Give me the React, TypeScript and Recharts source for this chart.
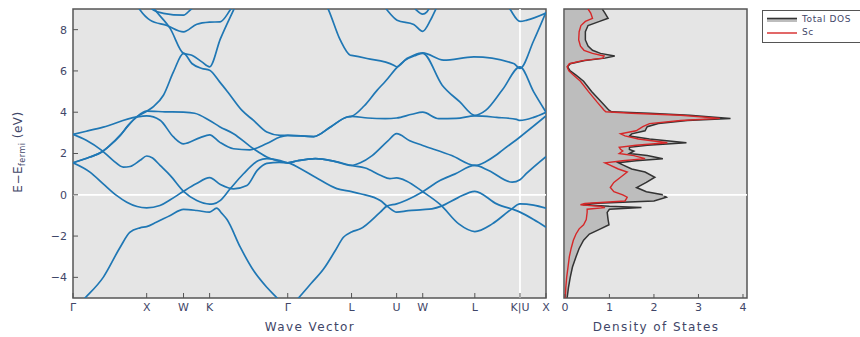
import React from 'react';
import {
  LineChart,
  Line,
  ComposedChart,
  Area,
  XAxis,
  YAxis,
  CartesianGrid,
  ReferenceLine,
  ReferenceArea,
  Legend,
} from 'recharts';

// high-symmetry points along the fcc path (distance in 2π/a)
const kPoints = [0, 1, 1.5, 1.854, 2.914, 3.78, 4.392, 4.746, 5.453, 6.066, 6.419];
const kLabels = ['Γ', 'X', 'W', 'K', 'Γ', 'L', 'U', 'W', 'L', 'K|U', 'X'];
const energyTicks = [-4, -2, 0, 2, 4, 6, 8];

// bands as [k, E - Efermi]
const band1 = [
  [0, -5.6], [0.163, -5.0], [0.41, -4.0], [0.64, -2.54], [0.77, -1.82], [0.91, -1.6], [1, -1.54],
  [1.13, -1.33], [1.32, -1.0], [1.5, -0.71],
  [1.68, -0.76], [1.854, -0.84],
  [1.95, -0.65], [2.02, -0.9], [2.09, -1.2], [2.27, -2.54], [2.45, -3.67], [2.63, -4.48], [2.77, -5.0], [2.914, -5.6],
  [3.06, -5.0], [3.23, -4.3], [3.4, -3.6], [3.56, -2.7], [3.67, -2.06], [3.78, -1.8],
  [3.9, -1.65], [4.17, -0.84], [4.26, -0.55], [4.392, -0.44],
  [4.53, -0.25], [4.746, 0.15],
  [4.98, 0.69], [5.18, 1.0], [5.453, 1.42],
  [5.64, 1.18], [5.96, 0.61], [6.066, 0.73], [6.15, 1.02], [6.419, 1.85],
];
const band2 = [
  [0, 1.55], [0.23, 1.1], [0.41, 0.53], [0.59, -0.03], [0.73, -0.36], [0.87, -0.57], [1, -0.63],
  [1.18, -0.52], [1.32, -0.24], [1.5, 0.17],
  [1.67, 0.53], [1.854, 0.83],
  [2.0, 0.5], [2.178, 0.29], [2.36, 0.45], [2.5, 1.18], [2.63, 1.52], [2.8, 1.57], [2.914, 1.55],
  [3.07, 1.3], [3.29, 0.85], [3.58, 0.3], [3.78, 0.15],
  [3.9, 0.05], [4.17, -0.28], [4.28, -0.6], [4.392, -0.84],
  [4.55, -0.77], [4.746, -0.72],
  [4.87, -0.68], [5.0, -0.55], [5.22, -0.15], [5.453, 0.17],
  [5.75, -0.44], [6.066, -0.84], [6.25, -1.2], [6.419, -1.57],
];
const band3 = [
  [0, 1.55], [0.23, 1.83], [0.39, 2.07], [0.5, 2.39], [0.64, 2.88], [0.75, 3.36], [0.865, 3.77], [1, 4.05],
  [1.1, 4.3], [1.227, 4.82], [1.363, 5.95], [1.5, 6.85],
  [1.613, 6.36], [1.749, 6.12], [1.854, 6.03],
  [1.99, 5.47], [2.1, 4.98], [2.29, 4.1], [2.45, 3.6], [2.63, 3.04], [2.81, 2.88], [2.914, 2.88],
  [3.265, 2.82], [3.5, 3.3], [3.72, 3.77], [3.78, 3.8],
  [3.95, 4.3], [4.126, 5.06], [4.24, 5.5], [4.392, 6.15],
  [4.5, 6.5], [4.65, 6.75], [4.746, 6.85],
  [5.01, 5.31], [5.25, 4.5], [5.453, 3.85],
  [5.6, 4.09], [5.83, 5.1], [6.066, 6.2],
  [6.25, 5.0], [6.419, 4.0],
];
const band4 = [
  [0, 1.55], [0.23, 1.83], [0.39, 2.07], [0.5, 2.39], [0.64, 2.88], [0.75, 3.36], [0.865, 3.77], [1, 4.05],
  [1.25, 4.02], [1.5, 4.0],
  [1.65, 3.95], [1.854, 3.6],
  [1.99, 3.3], [2.178, 2.96], [2.45, 2.23], [2.63, 1.83], [2.86, 1.58], [2.914, 1.55],
  [3.05, 1.65], [3.29, 1.75], [3.55, 1.62], [3.78, 1.42],
  [3.9, 1.55], [4.06, 1.9], [4.27, 2.6], [4.392, 2.96],
  [4.57, 2.62], [4.746, 2.39],
  [5.14, 1.9], [5.453, 1.42],
  [5.6, 1.6], [5.734, 1.9], [5.825, 2.15], [6.066, 2.8],
  [6.419, 3.82],
];
const band5 = [
  [0, 2.93], [0.18, 3.08], [0.41, 3.28], [0.865, 3.77], [1, 3.82],
  [1.182, 3.61], [1.363, 2.8], [1.5, 2.47],
  [1.726, 2.77], [1.854, 2.9],
  [1.99, 2.55], [2.178, 2.23], [2.4, 2.18], [2.63, 2.48], [2.81, 2.8], [2.914, 2.88],
  [3.265, 2.82], [3.5, 3.3], [3.72, 3.77], [3.78, 3.8],
  [4.0, 3.72], [4.239, 3.69], [4.392, 3.72],
  [4.6, 3.9], [4.746, 4.0],
  [4.963, 3.69], [5.2, 3.7], [5.453, 3.82],
  [5.75, 3.75], [6.02, 3.65], [6.066, 3.6],
  [6.25, 3.75], [6.419, 4.0],
];
const band6 = [
  [0, 2.93], [0.18, 2.64], [0.39, 2.15], [0.543, 1.67], [0.683, 1.34], [0.775, 1.37], [0.91, 1.67], [1, 1.88],
  [1.08, 1.78], [1.182, 1.42], [1.318, 0.94], [1.5, 0.17],
  [1.68, -0.28], [1.854, -0.45],
  [1.905, -0.44], [1.996, -0.28], [2.133, 0.29], [2.314, 1.02], [2.518, 1.66], [2.632, 1.75], [2.812, 1.66], [2.914, 1.55],
  [3.05, 1.65], [3.29, 1.75], [3.55, 1.62], [3.78, 1.42],
  [3.967, 1.3], [4.171, 0.95], [4.3, 0.78], [4.392, 0.82],
  [4.53, 0.66], [4.746, 0.15],
  [4.986, -0.48], [5.235, -1.41], [5.453, -1.78],
  [5.689, -1.41], [5.938, -0.73], [6.066, -0.44],
  [6.25, -0.5], [6.419, -0.65],
];
const band7 = [
  [1, 9.5], [1.114, 8.95], [1.318, 8.06], [1.5, 6.85],
  [1.613, 6.76], [1.749, 6.44], [1.854, 6.2],
  [2.0, 7.55], [2.178, 8.95], [2.3, 9.9],
];
const band8 = [
  [0.8, 9.6], [0.91, 8.95], [1.046, 8.46], [1.273, 8.2], [1.5, 7.89],
  [1.68, 8.26], [1.854, 8.36], [1.997, 8.38], [2.133, 8.95], [2.25, 9.6],
];
const band9 = [[1.0, 9.3], [1.091, 8.95], [1.227, 8.79], [1.5, 8.7], [1.59, 8.95], [1.7, 9.3]];
const band10 = [
  [3.35, 9.8], [3.469, 8.95], [3.628, 7.49], [3.764, 6.76], [3.78, 6.75],
  [3.99, 6.6], [4.352, 6.28], [4.392, 6.2],
  [4.53, 6.6], [4.624, 6.76], [4.746, 6.87],
  [5.03, 6.52], [5.44, 6.68], [5.98, 6.36], [6.066, 6.12],
  [6.25, 7.45], [6.419, 8.85],
];
const band11 = [
  [4.15, 9.5], [4.262, 8.95], [4.398, 8.46], [4.624, 8.25], [4.746, 7.92],
  [4.851, 8.46], [4.918, 8.95], [5.0, 9.6],
];
const band12 = [[4.58, 9.3], [4.66, 8.95], [4.746, 8.75], [4.8, 8.85], [4.86, 9.2]];
const band13 = [[5.85, 9.5], [5.938, 8.95], [6.066, 8.4], [6.16, 8.46], [6.419, 8.8]];

const bands = [band1, band2, band3, band4, band5, band6, band7, band8, band9, band10, band11, band12, band13];

// density of states, read along energy
const dosEnergy = [
  9.0, 8.8, 8.55, 8.4, 8.2, 7.9, 7.5, 7.2, 7.0, 6.85, 6.72, 6.62, 6.5, 6.35, 6.2, 6.0, 5.8, 5.5, 5.0, 4.5,
  4.1, 4.02, 3.95, 3.85, 3.7, 3.6, 3.45, 3.3, 3.1, 2.95, 2.85, 2.7, 2.52, 2.4, 2.3, 2.2, 2.12, 2.0, 1.9,
  1.75, 1.65, 1.55, 1.45, 1.25, 1.1, 0.85, 0.6, 0.35, 0.15, 0.0, -0.12, -0.3, -0.42, -0.48, -0.56, -0.62,
  -0.7, -0.85, -1.2, -1.45, -1.65, -1.9, -2.2, -2.6, -3.0, -3.5, -4.0, -4.5, -5.0,
];
const totalDos = [
  0.84, 0.9, 0.97, 0.78, 0.52, 0.46, 0.46, 0.52, 0.62, 0.8, 1.12, 0.9, 0.45, 0.12, 0.06, 0.12, 0.25, 0.42, 0.6, 0.82,
  0.99, 1.05, 1.9, 2.8, 3.72, 2.75, 2.1, 1.85, 1.8, 1.5, 1.45, 1.9, 2.73, 1.85, 1.45, 1.45, 1.55, 1.45, 1.85,
  2.2, 1.6, 1.2, 1.3, 1.5, 1.8, 2.02, 1.83, 1.61, 1.83, 2.2, 2.28, 2.0, 0.6, 0.4, 1.0, 1.72,
  1.0, 0.95, 0.97, 0.99, 0.8, 0.55, 0.42, 0.32, 0.25, 0.17, 0.12, 0.08, 0.05,
];
const scDos = [
  0.52, 0.58, 0.62, 0.46, 0.36, 0.32, 0.31, 0.35, 0.43, 0.62, 0.88, 0.85, 0.4, 0.1, 0.05, 0.09, 0.19, 0.35, 0.53, 0.72,
  0.88, 0.92, 1.5, 2.6, 3.48, 2.6, 1.9, 1.75, 1.6, 1.25, 1.35, 1.65, 2.3, 1.6, 1.22, 1.25, 1.3, 1.22, 1.55,
  1.8, 1.3, 0.9, 1.0, 1.2, 1.4, 1.25, 1.1, 1.02, 1.1, 1.3, 1.4, 1.35, 0.45, 0.35, 0.8, 0.9,
  0.5, 0.5, 0.48, 0.42, 0.32, 0.25, 0.19, 0.14, 0.1, 0.07, 0.04, 0.02, 0.01,
];
const dosTicks = [0, 1, 2, 3, 4];
const dosMax = 4.09;

const FONT = '"DejaVu Sans", sans-serif';
const TEXT = '#3f4668';
const BAND = '#1f77b4';
const BG = '#e5e5e5';
const FRAME = '#555';

const tickStyle = { fontSize: 11, fill: TEXT, fontFamily: FONT };
const fmtEnergy = (v: number) => (v < 0 ? `\u2212${-v}` : `${v}`);
const toPoints = (band: number[][]) => band.map(([k, e]) => ({ k, e }));
const dosRows = dosEnergy.map((e, i) => ({ e, total: totalDos[i], sc: scDos[i] }));
// the fermi line only shows where the filled total DOS does not cover it
const dosAtFermi = totalDos[dosEnergy.indexOf(0)];

function DosLegend() {
  return (
    <div
      style={{
        border: `1.5px solid ${FRAME}`,
        background: '#fff',
        width: 100,
        padding: '2px 0 3px 4px',
        fontFamily: FONT,
        fontSize: 9,
        letterSpacing: 0.6,
        color: TEXT,
        lineHeight: '13px',
      }}
    >
      <div style={{ display: 'flex', alignItems: 'center' }}>
        <svg width={30} height={8}>
          <rect x={0} y={2} width={30} height={4} fill="#bdbdbd" />
          <line x1={0} x2={30} y1={2.5} y2={2.5} stroke="#333" strokeWidth={1.6} />
        </svg>
        <span style={{ marginLeft: 5 }}>Total DOS</span>
      </div>
      <div style={{ display: 'flex', alignItems: 'center' }}>
        <svg width={30} height={8}>
          <line x1={0} x2={30} y1={4} y2={4} stroke="#d62728" strokeWidth={1.4} />
        </svg>
        <span style={{ marginLeft: 5 }}>Sc</span>
      </div>
    </div>
  );
}

export default function App() {
  return (
    <div style={{ position: 'fixed', left: 0, top: 0, width: 860, height: 337, background: '#fff', overflow: 'hidden' }}>
      <div style={{ position: 'absolute', left: 0, top: 0 }}>
        <LineChart width={560} height={337} margin={{ top: 9, right: 14, bottom: 9, left: 13 }}>
          <CartesianGrid fill={BG} horizontal={false} vertical={false} />
          <XAxis
            type="number"
            dataKey="k"
            domain={[0, 6.419]}
            allowDataOverflow
            ticks={kPoints}
            tickFormatter={(_v: number, i: number) => kLabels[i]}
            interval={0}
            height={30}
            axisLine={false}
            tickSize={-5}
            tickMargin={10}
            tickLine={{ stroke: FRAME }}
            tick={tickStyle}
          />
          <YAxis
            type="number"
            domain={[-5, 9]}
            allowDataOverflow
            ticks={energyTicks}
            tickFormatter={fmtEnergy}
            width={60}
            axisLine={false}
            tickSize={-5}
            tickMargin={11}
            tickLine={{ stroke: FRAME }}
            tick={tickStyle}
          />
          <YAxis
            yAxisId="right"
            orientation="right"
            type="number"
            domain={[-5, 9]}
            ticks={energyTicks}
            tickFormatter={() => ''}
            width={0}
            axisLine={false}
            tickSize={-5}
            tickLine={{ stroke: FRAME }}
          />
          <ReferenceLine y={0} stroke="#fff" strokeWidth={1.8} />
          <ReferenceLine x={6.066} stroke="#fff" strokeWidth={1.8} />
          {bands.map((b, i) => (
            <Line
              key={i}
              data={toPoints(b)}
              dataKey="e"
              type="monotone"
              stroke={BAND}
              strokeWidth={1.7}
              dot={false}
              activeDot={false}
              isAnimationActive={false}
            />
          ))}
          <ReferenceArea x1={0} x2={6.419} y1={-5} y2={9} fill="none" stroke={FRAME} strokeWidth={1.5} />
        </LineChart>
      </div>

      <div style={{ position: 'absolute', left: 550, top: 0 }}>
        <ComposedChart
          layout="vertical"
          width={310}
          height={337}
          data={dosRows}
          margin={{ top: 9, right: 113, bottom: 9, left: 14 }}
        >
          <CartesianGrid fill={BG} horizontal={false} vertical={false} />
          <XAxis
            type="number"
            domain={[-0.02, dosMax]}
            allowDataOverflow
            ticks={dosTicks}
            height={30}
            axisLine={false}
            tickSize={-4}
            tickMargin={9}
            tickLine={{ stroke: FRAME }}
            tick={tickStyle}
          />
          <YAxis
            type="number"
            dataKey="e"
            domain={[-5, 9]}
            reversed
            allowDataOverflow
            ticks={energyTicks}
            tickFormatter={() => ''}
            width={0}
            axisLine={false}
            tickSize={-5}
            tickLine={{ stroke: FRAME }}
          />
          <YAxis
            yAxisId="right"
            orientation="right"
            type="number"
            domain={[-5, 9]}
            reversed
            ticks={energyTicks}
            tickFormatter={() => ''}
            width={0}
            axisLine={false}
            tickSize={-5}
            tickLine={{ stroke: FRAME }}
          />
          <ReferenceLine
            segment={[{ x: dosAtFermi, y: 0 }, { x: dosMax, y: 0 }]}
            stroke="#fff"
            strokeWidth={1.8}
          />
          <Area
            dataKey="total"
            type="linear"
            stroke="#333"
            strokeWidth={1.5}
            fill="#bdbdbd"
            fillOpacity={1}
            isAnimationActive={false}
          />
          <Line
            dataKey="sc"
            type="linear"
            stroke="#d62728"
            strokeWidth={1.4}
            dot={false}
            activeDot={false}
            isAnimationActive={false}
          />
          <ReferenceArea x1={-0.02} x2={dosMax} y1={-5} y2={9} fill="none" stroke={FRAME} strokeWidth={1.5} />
          <Legend
            layout="horizontal"
            verticalAlign="middle"
            align="center"
            content={() => <DosLegend />}
            wrapperStyle={{ left: 212, top: 10, width: 'auto', height: 'auto' }}
          />
        </ComposedChart>
      </div>

      <div
        style={{
          position: 'absolute',
          left: 19,
          top: 152,
          transform: 'translate(-50%, -50%) rotate(-90deg)',
          whiteSpace: 'nowrap',
          fontFamily: FONT,
          fontSize: 12,
          letterSpacing: 0.5,
          color: TEXT,
        }}
      >
        E−E<sub style={{ fontSize: 8 }}>fermi</sub> (eV)
      </div>
      <div
        style={{
          position: 'absolute',
          left: 310,
          top: 327,
          transform: 'translate(-50%, -50%)',
          whiteSpace: 'nowrap',
          fontFamily: FONT,
          fontSize: 12,
          letterSpacing: 1.4,
          color: TEXT,
        }}
      >
        Wave Vector
      </div>
      <div
        style={{
          position: 'absolute',
          left: 656,
          top: 327,
          transform: 'translate(-50%, -50%)',
          whiteSpace: 'nowrap',
          fontFamily: FONT,
          fontSize: 12,
          letterSpacing: 1.4,
          color: TEXT,
        }}
      >
        Density of States
      </div>
    </div>
  );
}
